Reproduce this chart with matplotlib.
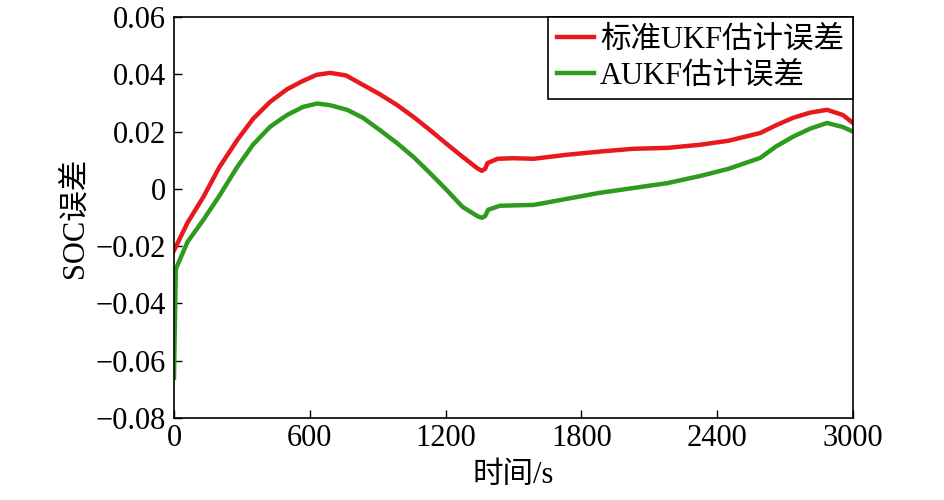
import numpy as np
import matplotlib.pyplot as plt

plt.rcParams['font.family'] = ['Liberation Serif', 'Noto Sans CJK SC']
plt.rcParams['axes.unicode_minus'] = True

# time axis (s) and SOC error for standard UKF
t_ukf = [0, 60, 130, 200, 280, 350, 425, 500, 570, 630, 690, 760, 835, 910,
         985, 1060, 1130, 1200, 1275, 1340, 1360, 1375, 1385, 1430, 1500,
         1590, 1735, 1880, 2030, 2180, 2325, 2450, 2590, 2660, 2735, 2810,
         2885, 2955, 3000]
err_ukf = [-0.0215, -0.0118, -0.0028, 0.0075, 0.0171, 0.0245, 0.0304, 0.0348,
           0.0377, 0.0398, 0.0405, 0.0396, 0.0363, 0.0330, 0.0293, 0.0250,
           0.0206, 0.0160, 0.0112, 0.0072, 0.0063, 0.0070, 0.0090, 0.0105,
           0.0107, 0.0105, 0.0119, 0.0130, 0.0140, 0.0143, 0.0154, 0.0168,
           0.0195, 0.0222, 0.0248, 0.0266, 0.0276, 0.0258, 0.0230]

# SOC error for adaptive UKF
t_aukf = [0, 8, 60, 130, 200, 280, 350, 425, 500, 570, 632, 690, 765, 835,
          910, 985, 1060, 1130, 1200, 1275, 1340, 1360, 1375, 1388, 1440,
          1590, 1735, 1880, 2030, 2180, 2325, 2450, 2590, 2660, 2735, 2810,
          2885, 2955, 3000]
err_aukf = [-0.066, -0.028, -0.0185, -0.0108, -0.0025, 0.0077, 0.0155, 0.0217,
            0.0258, 0.0286, 0.0298, 0.0292, 0.0276, 0.0248, 0.0205, 0.0160,
            0.0110, 0.0056, 0.0000, -0.0063, -0.0095, -0.0101, -0.0095,
            -0.0073, -0.0059, -0.0056, -0.0035, -0.0014, 0.0003, 0.0020,
            0.0045, 0.0070, 0.0108, 0.0148, 0.0182, 0.0210, 0.0230, 0.0216,
            0.0200]

x_ticks = [0, 600, 1200, 1800, 2400, 3000]
y_ticks = [-0.08, -0.06, -0.04, -0.02, 0, 0.02, 0.04, 0.06]
y_tick_labels = ['\u22120.08', '\u22120.06', '\u22120.04', '\u22120.02', '0',
                 '0.02', '0.04', '0.06']

fig = plt.figure(figsize=(9.44, 5.0), dpi=100)
ax = fig.add_axes([0.1843, 0.164, 0.7193, 0.802])

ax.plot(t_ukf, err_ukf, color='#e8191e', lw=3.2, label='标准UKF估计误差')
ax.plot(t_aukf, err_aukf, color='#2e9a1e', lw=3.2, label='AUKF估计误差')

ax.set_xlim(0, 3000)
ax.set_ylim(-0.08, 0.06)
ax.set_xticks(x_ticks)
ax.set_yticks(y_ticks)
ax.set_yticklabels(y_tick_labels)
ax.tick_params(direction='in', length=6, width=1, labelsize=22,
               top=False, right=False)
ax.tick_params(axis='y', pad=6)
ax.tick_params(axis='x', pad=4)
for s in ax.spines.values():
    s.set_linewidth(1.2)

ax.set_xlabel('时间/s', fontsize=22, labelpad=6)
ax.set_ylabel('SOC误差', fontsize=22, labelpad=4)

leg = ax.legend(loc='upper right', fontsize=22, borderaxespad=0,
                fancybox=False, edgecolor='black', framealpha=1,
                handlelength=1.2, handletextpad=0.2, borderpad=0.3,
                labelspacing=0.2)
leg.get_frame().set_linewidth(1.2)

fig.savefig('out.png', dpi=100)
